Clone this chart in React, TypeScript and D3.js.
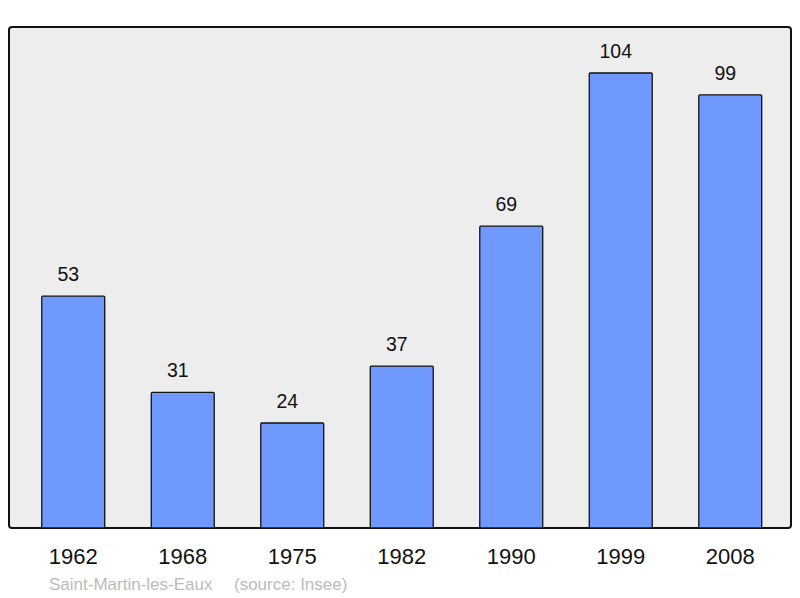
import React from "react";
import * as d3 from "d3";

const years = ["1962", "1968", "1975", "1982", "1990", "1999", "2008"];
const population = [53, 31, 24, 37, 69, 104, 99];
const commune = "Saint-Martin-les-Eaux";
const source = "(source: Insee)";

export default function App() {
  const width = 800;
  const height = 598;
  const frame = { x0: 9, y0: 27, x1: 791, y1: 528 };

  // band centers at ~73 with a step of ~109.5
  const x = d3.scaleBand<string>()
    .domain(years)
    .range([18.5, 785])
    .paddingInner(0.425)
    .paddingOuter(0.2125);

  const y = d3.scaleLinear()
    .domain([0, 104])
    .range([frame.y1, 73]);

  const mid = (yr: string) => (x(yr) as number) + x.bandwidth() / 2;

  return (
    <svg width={width} height={height}
      style={{ position: "absolute", left: 0, top: 0, fontFamily: "'Liberation Sans', Arial, sans-serif" }}>
      <rect x={frame.x0} y={frame.y0} width={frame.x1 - frame.x0} height={frame.y1 - frame.y0}
        rx={3} fill="#ededed" stroke="#111" strokeWidth={2} />
      {years.map((yr, i) => (
        <g key={yr}>
          <rect x={x(yr)} y={y(population[i])} width={x.bandwidth()}
            height={y(0) - y(population[i])}
            fill="#7099ff" stroke="#111" strokeWidth={1.3} rx={1} />
          {/* value labels sit a bit left of the bar centre in the original */}
          <text x={mid(yr) - 5} y={y(population[i]) - 15}
            textAnchor="middle" fontSize={19.5} fill="#111">{population[i]}</text>
          <text x={mid(yr)} y={564}
            textAnchor="middle" fontSize={22} fill="#111">{yr}</text>
        </g>
      ))}
      <text x={49} y={590} fontSize={17} fill="#bbb">{commune}</text>
      <text x={234} y={590} fontSize={17} fill="#bbb">{source}</text>
    </svg>
  );
}
